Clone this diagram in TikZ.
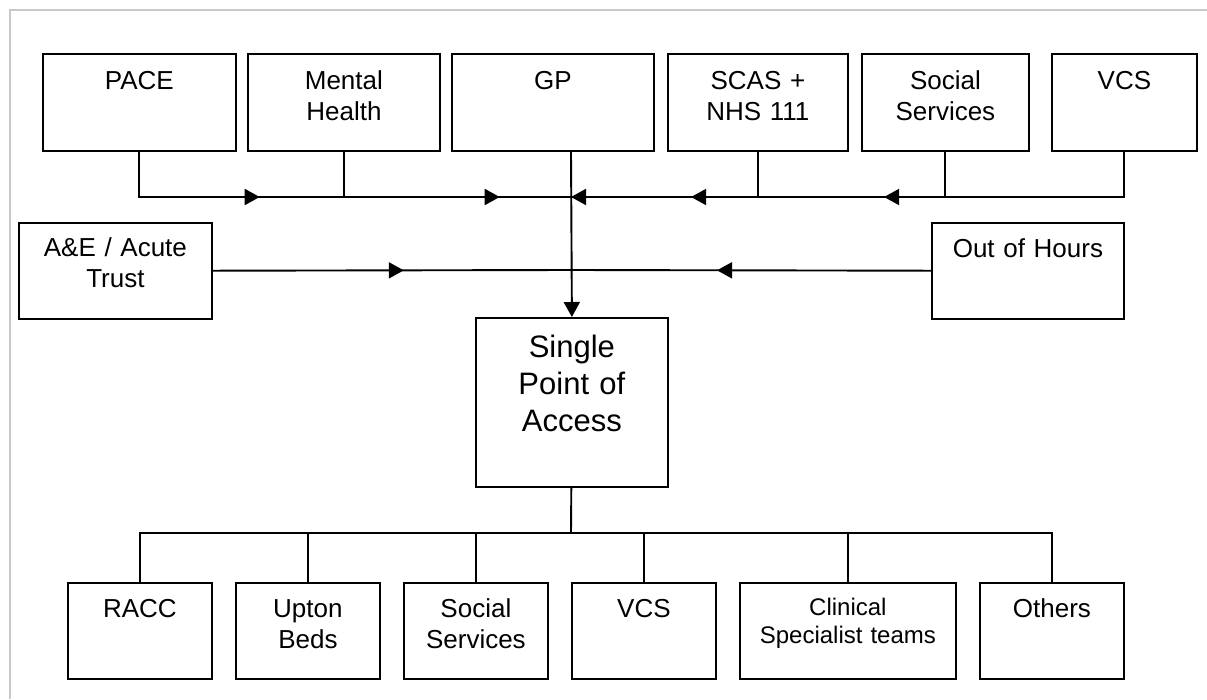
\documentclass[tikz,border=0pt]{standalone}
\usepackage{fontspec}
\setmainfont{Liberation Sans}
\usetikzlibrary{arrows.meta,decorations.markings}
\definecolor{framegray}{RGB}{200,200,200}

\begin{document}
\begin{tikzpicture}[x=1pt,y=-1pt,>=Latex]
      % Styles
      \tikzset{arr/.tip={Triangle[length=15pt,width=16pt]},
               unit/.style={draw,line width=1.8pt,inner sep=0pt,anchor=north west,
                            align=center,font=\fontsize{26}{31}\selectfont},
               topbox/.style={unit,text width=#1,text height=36pt,text depth=61pt},
               lowbox/.style={unit,text width=#1,text height=35pt,text depth=61pt},
               link/.style={line width=1.9pt},
               tipat/.style={postaction={decorate},
                             decoration={markings,mark=at position #1 with {\arrow{arr}}}}}
      \useasboundingbox (0,0) rectangle (1207,699);

      % outer frame (only top and left edge visible)
      \draw[framegray,line width=2pt] (10,699) -- (10,10) -- (1207,10);

      % referring services (top row)
      \foreach \id/\x/\w/\txt in {pace/42/193/PACE, mental/247/192/{Mental\\Health},
                                  gp/451/202/GP, scas/667/180/{SCAS +\\NHS 111},
                                  socin/861/167/{Social\\Services}, vcsin/1051/145/VCS}
        \node[topbox=\w pt] (\id) at (\x,53) {\txt};

      % side sources
      \node[unit,text width=193pt,text height=34pt,text depth=62pt] (ae) at (18,222) {A\&E / Acute\\Trust};
      \node[unit,text width=192pt,text height=35pt,text depth=61pt] (ooh) at (931,222) {Out of Hours};

      % single point of access
      \node[unit,text width=192pt,text height=40pt,text depth=129pt,
            font=\fontsize{31}{37}\selectfont] (spa) at (475,317) {Single\\Point of\\Access};

      % collecting line into the GP drop
      \coordinate (hub) at (571,197);
      \draw[link,tipat=165.5pt] (pace.south) |- (hub);
      \draw[link,tipat=201pt] (mental.south) |- (hub);
      \draw[link,-arr] (scas.south) |- (hub);
      \draw[link,tipat=299.5pt] (socin.south) |- (hub);
      \draw[link,tipat=285.5pt] (vcsin.south) |- (hub);
      \draw[link,-arr] (gp.south -| hub) -- (spa.north);

      % second line (A&E and out of hours)
      \coordinate (mid) at (571,270);
      \draw[link,tipat=191pt] (ae) -- (mid);
      \draw[link,tipat=214pt] (ooh) -- (mid);

      % services reached (bottom row)
      \foreach \id/\x/\txt in {racc/67/RACC, upton/235/{Upton\\Beds}, socout/403/{Social\\Services},
                               vcsout/571/VCS, others/979/Others}
        \node[lowbox=144pt] (\id) at (\x,582) {\txt};
      \node[unit,text width=216pt,text height=33pt,text depth=63pt,
            font=\fontsize{24}{28}\selectfont] (clin) at (739,582) {Clinical\\Specialist teams};

      \coordinate (fork) at (571,533);
      \draw[link] (spa) -- (fork);
      \foreach \id in {racc,upton,socout,vcsout,clin,others}
        \draw[link] (fork) -| (\id);
    \end{tikzpicture}
\end{document}
